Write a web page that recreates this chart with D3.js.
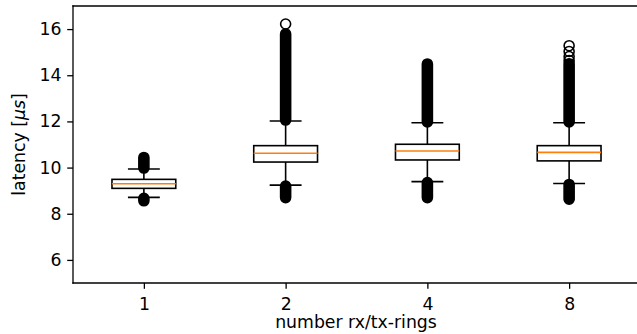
<!DOCTYPE html>
<html>
<head>
<meta charset="utf-8">
<script src="https://cdn.jsdelivr.net/npm/d3@7"></script>
<style>
    body { margin: 0; background: #fff; overflow: hidden; }
    svg { display: block; font-family: "DejaVu Sans", sans-serif; }
</style>
</head>
<body>
<svg id="chart" width="637" height="334"></svg>
<script>
// box plot stats, one entry per ring count
let categories = ["1", "2", "4", "8"];
let q1 = [9.10, 10.24, 10.33, 10.29];
let medians = [9.30, 10.62, 10.72, 10.66];
let q3 = [9.49, 10.95, 11.01, 10.95];
let whiskerLow = [8.71, 9.24, 9.39, 9.31];
let whiskerHigh = [9.94, 12.02, 11.94, 11.94];
// outliers that are so dense they merge into a solid band: [from, to]
let fliersHighBand = [[9.98, 10.44], [12.06, 15.79], [11.98, 14.49], [11.98, 14.50]];
let fliersLowBand = [[8.56, 8.67], [8.70, 9.20], [8.70, 9.35], [8.63, 9.27]];
// single outliers that can still be seen one by one
let fliersSparse = [[], [16.22], [], [14.64, 14.81, 15.03, 15.28]];
let yTicks = [6, 8, 10, 12, 14, 16];

let svg = d3.select("#chart");
let plotLeft = 73, plotRight = 640, plotTop = 6, plotBottom = 283;
let fontSize = 17.3;
let lw = 1.6;
let markerR = 5;

let x = d3.scaleLinear().domain([0.5, 4.5]).range([plotLeft, plotRight]);
let y = d3.scaleLinear().domain([5, 17]).range([plotBottom, plotTop]);
let boxW = x(0.45) - x(0);
let capW = x(0.225) - x(0);

// y axis
let yAxis = d3.axisLeft(y).tickValues(yTicks).tickSize(5.8).tickPadding(5.8);
let yg = svg.append("g").attr("transform", "translate(" + plotLeft + ",0)").call(yAxis);
yg.select(".domain").remove();
yg.selectAll("line").attr("stroke", "#000").attr("stroke-width", 1.3);
yg.selectAll("text").attr("font-size", fontSize).attr("font-family", "DejaVu Sans").attr("fill", "#000");

// x axis
let xAxis = d3.axisBottom(x).tickValues([1, 2, 3, 4]).tickFormat((d, i) => categories[i]).tickSize(5.8).tickPadding(8.5);
let xg = svg.append("g").attr("transform", "translate(0," + plotBottom + ")").call(xAxis);
xg.select(".domain").remove();
xg.selectAll("line").attr("stroke", "#000").attr("stroke-width", 1.3);
xg.selectAll("text").attr("font-size", fontSize).attr("font-family", "DejaVu Sans").attr("fill", "#000");

// spines (the right one falls outside the picture)
let spines = [
    [plotLeft, plotTop, plotLeft, plotBottom],
    [plotLeft, plotTop, plotRight, plotTop],
    [plotLeft, plotBottom, plotRight, plotBottom]
];
svg.append("g").selectAll("line")
    .data(spines)
    .enter()
    .append("line")
    .attr("x1", d => d[0]).attr("y1", d => d[1])
    .attr("x2", d => d[2]).attr("y2", d => d[3])
    .attr("stroke", "#000").attr("stroke-width", 1.3).attr("stroke-linecap", "square");

// boxes
let boxes = svg.append("g");
categories.forEach((c, i) => {
    let cx = x(i + 1);
    let g = boxes.append("g");

    // whiskers
    g.append("line").attr("x1", cx).attr("x2", cx).attr("y1", y(q3[i])).attr("y2", y(whiskerHigh[i]))
        .attr("stroke", "#000").attr("stroke-width", lw);
    g.append("line").attr("x1", cx).attr("x2", cx).attr("y1", y(q1[i])).attr("y2", y(whiskerLow[i]))
        .attr("stroke", "#000").attr("stroke-width", lw);
    // caps
    [whiskerHigh[i], whiskerLow[i]].forEach(v => {
        g.append("line").attr("x1", cx - capW / 2).attr("x2", cx + capW / 2).attr("y1", y(v)).attr("y2", y(v))
            .attr("stroke", "#000").attr("stroke-width", lw);
    });
    // box
    g.append("rect")
        .attr("x", cx - boxW / 2).attr("y", y(q3[i]))
        .attr("width", boxW).attr("height", y(q1[i]) - y(q3[i]))
        .attr("fill", "none").attr("stroke", "#000").attr("stroke-width", lw);
    // median
    g.append("line").attr("x1", cx - boxW / 2).attr("x2", cx + boxW / 2)
        .attr("y1", y(medians[i])).attr("y2", y(medians[i]))
        .attr("stroke", "#ff7f0e").attr("stroke-width", lw);

    // dense flier bands
    [fliersHighBand[i], fliersLowBand[i]].forEach(b => {
        g.append("rect")
            .attr("x", cx - markerR).attr("width", markerR * 2)
            .attr("y", y(b[1]) - markerR).attr("height", y(b[0]) - y(b[1]) + markerR * 2)
            .attr("rx", markerR).attr("ry", markerR)
            .attr("fill", "#000").attr("stroke", "#000").attr("stroke-width", lw);
    });
    // single fliers
    g.selectAll("circle.flier")
        .data(fliersSparse[i])
        .enter()
        .append("circle")
        .attr("class", "flier")
        .attr("cx", cx).attr("cy", d => y(d)).attr("r", markerR)
        .attr("fill", "none").attr("stroke", "#000").attr("stroke-width", lw);
});

// labels
svg.append("text")
    .attr("x", 356).attr("y", 328)
    .attr("text-anchor", "middle").attr("font-size", fontSize).attr("fill", "#000")
    .text("number rx/tx-rings");

let yl = svg.append("text")
    .attr("transform", "translate(25," + (plotTop + plotBottom) / 2 + ") rotate(-90)")
    .attr("text-anchor", "middle").attr("font-size", fontSize).attr("fill", "#000");
yl.append("tspan").text("latency [");
yl.append("tspan").attr("font-style", "italic").text("μs");
yl.append("tspan").text("]");
</script>
</body>
</html>
